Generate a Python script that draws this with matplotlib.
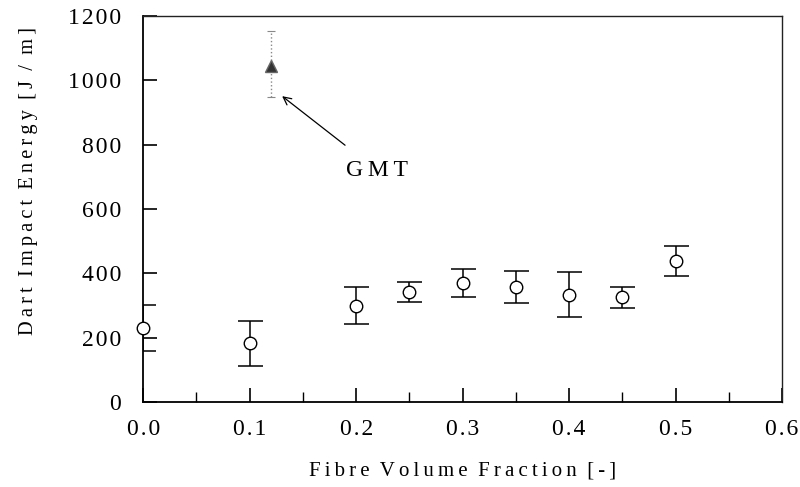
import numpy as np
import matplotlib.pyplot as plt
from matplotlib.ticker import FuncFormatter, MultipleLocator

# Dart impact energy vs fibre volume fraction
vf = [0.0, 0.1, 0.2, 0.25, 0.3, 0.35, 0.4, 0.45, 0.5]
energy = [230, 183, 300, 341, 369, 358, 333, 325, 439]
err = [71, 70, 57, 31, 44, 50, 70, 32, 47]

# GMT reference point
gmt_vf = [0.12]
gmt_energy = [1044]
gmt_err_low = [95]
gmt_err_high = [109]

plt.rcParams['font.family'] = ['Liberation Serif', 'DejaVu Serif']

THIN = "\u2009"
HAIR = "\u200a"


def spaced(text):
    # letter-spaced text like the scanned figure
    return "  ".join(THIN.join(w) for w in text.split(" "))


fig = plt.figure(figsize=(8, 4.87), dpi=100)
ax = fig.add_axes([0.179, 0.1745, 0.7985, 0.7925])

ax.errorbar(vf, energy, yerr=err, fmt='none', ecolor='black', elinewidth=1.1,
            capsize=9, capthick=1.1, zorder=3)
# markers drawn unclipped so the circle on the axis shows whole
ax.plot(vf, energy, 'o', mfc='white', mec='black', ms=9, mew=1.0,
        clip_on=False, zorder=4)

eb = ax.errorbar(gmt_vf, gmt_energy, yerr=[gmt_err_low, gmt_err_high], fmt='^',
                 mfc='#333333', mec='#666666', ms=8, ecolor='#888888',
                 elinewidth=1.0, capsize=3, capthick=0.8, zorder=3)
eb[2][0].set_linestyle(':')

ax.annotate(spaced("GMT"), xy=(0.1305, 951), xytext=(0.220, 720),
            ha='center', va='center', fontsize=17,
            arrowprops=dict(arrowstyle='->', color='black', lw=0.9,
                            shrinkA=14, shrinkB=0, mutation_scale=14))

ax.set_xlim(0, 0.6)
ax.set_ylim(0, 1200)
ax.xaxis.set_major_locator(MultipleLocator(0.1))
ax.xaxis.set_minor_locator(MultipleLocator(0.05))
ax.yaxis.set_major_locator(MultipleLocator(200))

ax.xaxis.set_major_formatter(FuncFormatter(lambda v, p: HAIR.join("%.1f" % v)))
ax.yaxis.set_major_formatter(FuncFormatter(lambda v, p: HAIR.join("%d" % v)))

ax.tick_params(axis='x', which='major', direction='in', length=10, width=1.2,
               pad=12, labelsize=17, top=False)
ax.tick_params(axis='x', which='minor', direction='in', length=7, width=1.0,
               top=False)
ax.tick_params(axis='y', which='major', direction='in', length=10, width=1.2,
               pad=16, labelsize=17, right=False)

for side in ['left', 'bottom']:
    ax.spines[side].set_linewidth(1.3)
for side in ['top', 'right']:
    ax.spines[side].set_linewidth(1.0)
    ax.spines[side].set_color('#222222')

ax.set_xlabel(spaced("Fibre Volume Fraction [-]"), fontsize=15, labelpad=16)
ax.set_ylabel(spaced("Dart Impact Energy [J / m]"), fontsize=14.7)
ax.yaxis.set_label_coords(-0.165, 0.573)

fig.savefig("out.png", dpi=100)
